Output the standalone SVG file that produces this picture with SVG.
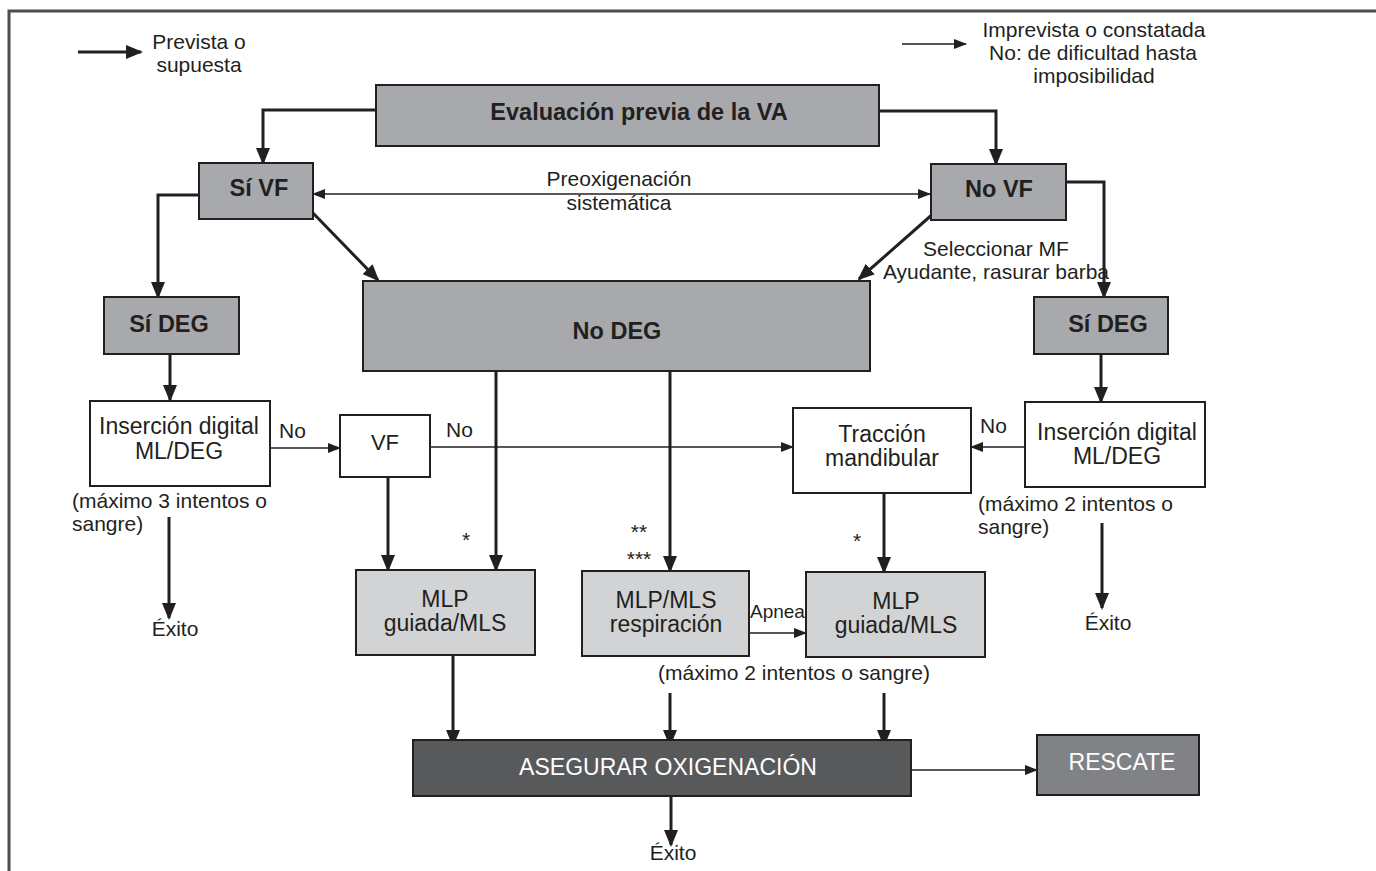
<svg xmlns="http://www.w3.org/2000/svg" width="1376" height="871" viewBox="0 0 1376 871">
<style>
text{font-family:"Liberation Sans",Arial,sans-serif;fill:#231f20}
.b{font-weight:bold;font-size:23.5px;text-anchor:middle}
.t{font-size:21px}
.m{font-size:23px;text-anchor:middle}
.c{text-anchor:middle}
.w{fill:#ffffff}
.g{fill:#a7a9ac;stroke:#231f20;stroke-width:2}
.l{fill:#d1d3d4;stroke:#231f20;stroke-width:2}
.p{fill:#ffffff;stroke:#231f20;stroke-width:2}
.k{stroke:#231f20;stroke-width:3;fill:none;marker-end:url(#ak)}
.n{stroke:#231f20;stroke-width:1.6;fill:none;marker-end:url(#an)}
</style>
<defs>
<marker id="ak" markerUnits="userSpaceOnUse" markerWidth="18" markerHeight="14" refX="15" refY="7" orient="auto-start-reverse"><path d="M0,0 L17,7 L0,14 z" fill="#231f20"/></marker>
<marker id="an" markerUnits="userSpaceOnUse" markerWidth="14" markerHeight="10" refX="12" refY="5" orient="auto-start-reverse"><path d="M0,0 L13,5 L0,10 z" fill="#231f20"/></marker>
</defs>
<rect x="0" y="0" width="1376" height="871" fill="#ffffff"/>
<rect x="9" y="11" width="1390" height="900" fill="none" stroke="#4d4d4d" stroke-width="3"/>

<g id="legend">
<path class="k" d="M78,52 H141"/>
<text class="t c" x="199" y="49">Prevista o</text>
<text class="t c" x="199" y="72">supuesta</text>
<path class="n" d="M902,44 H966"/>
<text class="t c" x="1094" y="37">Imprevista o constatada</text>
<text class="t c" x="1093" y="60">No: de dificultad hasta</text>
<text class="t c" x="1094" y="83">imposibilidad</text>
</g>

<g id="connectors">
<path class="k" d="M376,110 H263 V163"/>
<path class="k" d="M879,111 H996 V164"/>
<path class="n" d="M313,194 H930" style="marker-start:url(#an)"/>
<path class="k" d="M198,195 H158 V297"/>
<path class="k" d="M312,212 L378,280"/>
<path class="k" d="M934,213 L859,279"/>
<path class="k" d="M1066,182 H1104 V297"/>
<path class="k" d="M170,354 V400"/>
<path class="k" d="M1101,354 V402"/>
<path class="n" d="M270,448 H340"/>
<path class="n" d="M431,447 H793"/>
<path class="n" d="M1025,447 H971"/>
<path class="k" d="M388,477 V570"/>
<path class="k" d="M496,371 V570"/>
<path class="k" d="M670,371 V571"/>
<path class="k" d="M884,493 V572"/>
<path class="n" d="M749,633 H806"/>
<path class="k" d="M169,517 V618"/>
<path class="k" d="M1102,523 V608"/>
<path class="k" d="M453,655 V745"/>
<path class="k" d="M670,693 V745"/>
<path class="k" d="M884,693 V745"/>
<path class="n" d="M911,770 H1037"/>
<path class="k" d="M671,796 V845"/>
</g>

<g id="edge-labels">
<text class="t c" x="619" y="186">Preoxigenación</text>
<text class="t c" x="619" y="210">sistemática</text>
<text class="t c" x="996" y="256">Seleccionar MF</text>
<text class="t c" x="996" y="279">Ayudante, rasurar barba</text>
<text class="t" x="279" y="438">No</text>
<text class="t" x="446" y="437">No</text>
<text class="t" x="980" y="433">No</text>
<text class="t" x="72" y="508">(máximo 3 intentos o</text>
<text class="t" x="72" y="531">sangre)</text>
<text class="t" x="978" y="511">(máximo 2 intentos o</text>
<text class="t" x="978" y="534">sangre)</text>
<text class="t c" x="175" y="636">Éxito</text>
<text class="t c" x="1108" y="630">Éxito</text>
<text class="t c" x="673" y="860">Éxito</text>
<text class="t c" x="466" y="547">*</text>
<text class="t c" x="639" y="539">**</text>
<text class="t c" x="639" y="566">***</text>
<text class="t c" x="857" y="548">*</text>
<text x="750" y="618" style="font-size:19px">Apnea</text>
<text class="t c" x="794" y="680">(máximo 2 intentos o sangre)</text>
</g>

<g id="evaluacion">
<rect class="g" x="376" y="85" width="503" height="61"/>
<text class="b" x="639" y="120">Evaluación previa de la VA</text>
</g>
<g id="si-vf">
<rect class="g" x="199" y="163" width="114" height="56"/>
<text class="b" x="259" y="196">Sí VF</text>
</g>
<g id="no-vf">
<rect class="g" x="931" y="164" width="135" height="56"/>
<text class="b" x="999" y="197">No VF</text>
</g>
<g id="si-deg-left">
<rect class="g" x="104" y="297" width="135" height="57"/>
<text class="b" x="169" y="332">Sí DEG</text>
</g>
<g id="no-deg">
<rect class="g" x="363" y="281" width="507" height="90"/>
<text class="b" x="617" y="339">No DEG</text>
</g>
<g id="si-deg-right">
<rect class="g" x="1034" y="297" width="134" height="57"/>
<text class="b" x="1108" y="332">Sí DEG</text>
</g>
<g id="insercion-left">
<rect class="p" x="90" y="401" width="180" height="85"/>
<text class="m" x="179" y="434">Inserción digital</text>
<text class="m" x="179" y="459">ML/DEG</text>
</g>
<g id="vf">
<rect class="p" x="340" y="415" width="90" height="62"/>
<text class="m" x="385" y="450" style="font-size:22px">VF</text>
</g>
<g id="traccion">
<rect class="p" x="793" y="408" width="178" height="85"/>
<text class="m" x="882" y="442">Tracción</text>
<text class="m" x="882" y="466">mandibular</text>
</g>
<g id="insercion-right">
<rect class="p" x="1025" y="402" width="180" height="85"/>
<text class="m" x="1117" y="440">Inserción digital</text>
<text class="m" x="1117" y="464">ML/DEG</text>
</g>
<g id="mlp-guiada-left">
<rect class="l" x="356" y="570" width="179" height="85"/>
<text class="m" x="445" y="607">MLP</text>
<text class="m" x="445" y="631">guiada/MLS</text>
</g>
<g id="mlp-respiracion">
<rect class="l" x="582" y="571" width="167" height="85"/>
<text class="m" x="666" y="608">MLP/MLS</text>
<text class="m" x="666" y="632">respiración</text>
</g>
<g id="mlp-guiada-right">
<rect class="l" x="806" y="572" width="179" height="85"/>
<text class="m" x="896" y="609">MLP</text>
<text class="m" x="896" y="633">guiada/MLS</text>
</g>
<g id="asegurar">
<rect x="413" y="740" width="498" height="56" fill="#58595b" stroke="#231f20" stroke-width="2"/>
<text class="m w" x="668" y="775">ASEGURAR OXIGENACIÓN</text>
</g>
<g id="rescate">
<rect x="1037" y="735" width="162" height="60" fill="#808285" stroke="#231f20" stroke-width="2"/>
<text class="m w" x="1122" y="770" style="font-size:23px">RESCATE</text>
</g>
</svg>
